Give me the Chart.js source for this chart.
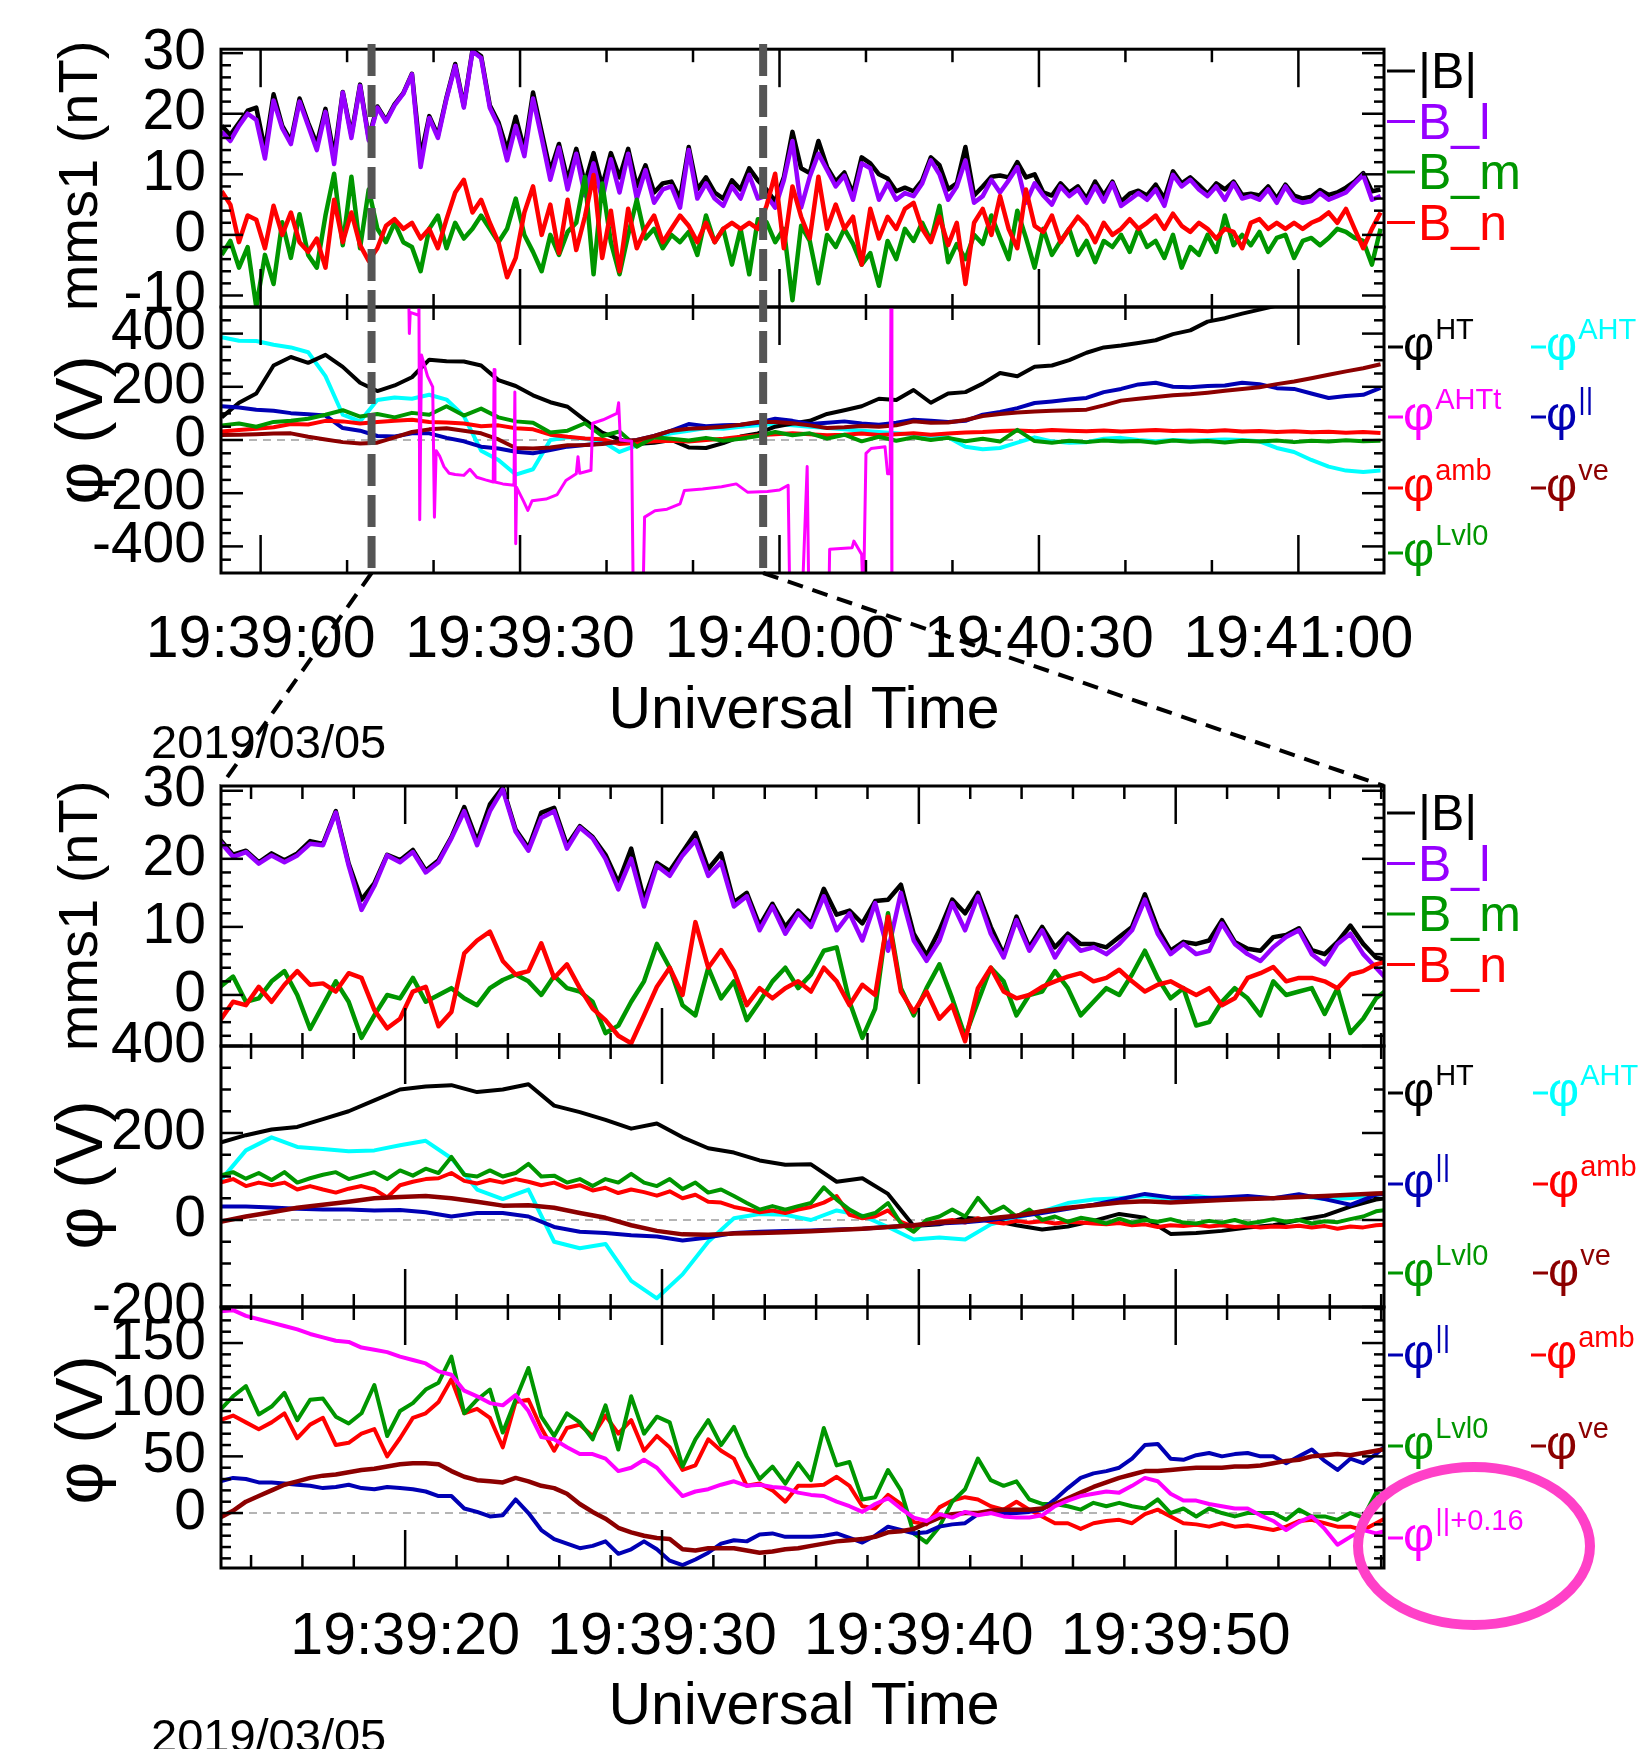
<!DOCTYPE html>
<html>
<head>
<meta charset="utf-8">
<script src="https://cdn.jsdelivr.net/npm/chart.js@4.4.1/dist/chart.umd.min.js"></script>
<style>
  html, body { margin: 0; padding: 0; background: #fff; }
  #page { position: relative; width: 1645px; height: 1749px; overflow: hidden; background: #fff; }
  #page canvas { position: absolute; left: 0; top: 0; }
</style>
</head>
<body>
<div id="page">
  <canvas id="p1" width="1645" height="1749"></canvas>
  <canvas id="p2" width="1645" height="1749"></canvas>
  <canvas id="p3" width="1645" height="1749"></canvas>
  <canvas id="p4" width="1645" height="1749"></canvas>
  <canvas id="p5" width="1645" height="1749"></canvas>
</div>
<script>
// time axis: seconds after 19:39:00 UT, 2019/03/05
const topRange = [-4.58, 129.9];
const zoomRange = [12.83, 58.11];
const topTickVals = [0, 30, 60, 90, 120];
const topTickLabels = ['19:39:00', '19:39:30', '19:40:00', '19:40:30', '19:41:00'];
const zoomTickVals = [20, 30, 40, 50];
const zoomTickLabels = ['19:39:20', '19:39:30', '19:39:40', '19:39:50'];

// ---- panel 1: B (nT), one sample per second from t = -4.5 ----
const bStart = -4.5, bStep = 1;
const bTot1 = [18, 16.5, 18.5, 20.5, 21, 14, 23.2, 18, 15.5, 22.5, 18.5, 15, 20.8, 13, 23.6,
  16.5, 24.8, 16, 21.2, 18.9, 21.6, 23.4, 26.6, 12.8, 19.6, 16.4, 22.7, 28.2, 21.3, 30.5,
  29.5, 21.4, 18.6, 14, 19.5, 14, 23.5, 17, 10.5, 15, 9, 14.2, 8.5, 13.5, 8,
  13.5, 9.5, 14.2, 8, 11.5, 7, 8.5, 8.8, 6, 14.5, 7.5, 9.5, 7, 6, 9,
  7.5, 11, 9, 7.5, 5.5, 9.5, 17, 11, 10.2, 15.5, 11.2, 8.8, 10.3, 6.8, 12.8,
  11.8, 10, 9.3, 7.2, 7.8, 7.2, 9, 12.8, 11.5, 7.5, 8.5, 14.5, 6.5, 8, 9.6,
  9.8, 9.5, 12, 9.5, 10, 7, 6.5, 8.5, 7, 8, 6, 8.8, 6.5, 8.8, 5.5,
  6.8, 7.3, 6.5, 8.3, 6, 10.5, 8.5, 9.5, 8.2, 6.8, 8.5, 7.5, 8.8, 6.6, 6.8,
  6.5, 8, 6, 8.3, 6.5, 6, 6.3, 7.4, 6.6, 7, 7.8, 8.8, 10.2, 7.2, 7.5];
const bL1 = [17, 15.5, 18, 20, 19, 12.6, 22.2, 17.6, 15, 22, 18, 14, 20.3, 11.7, 23.5,
  16, 24.6, 15.6, 21, 18.7, 21.4, 23.3, 26.5, 11.2, 19.3, 16, 22.5, 27.9, 21, 30.3,
  29.2, 21, 18, 12.3, 18, 13, 22.5, 16, 9.1, 14.4, 7.5, 13.4, 6.5, 11.8, 5.8,
  12.5, 7, 13.4, 6, 10.7, 5.3, 7.5, 8, 4.5, 14, 6, 8.5, 6, 4.8, 8,
  6, 9.9, 6, 6.5, 4.5, 9, 15.5, 4.5, 9.6, 13.4, 10.7, 8, 9.8, 5.8, 11.8,
  11, 5.8, 8.5, 5.8, 6.9, 6.4, 8.5, 12.3, 10, 5.8, 8, 12.3, 5.3, 6.4, 9.1,
  7, 9, 11.2, 5.3, 8.5, 6.5, 5, 8, 6.4, 7.5, 5.3, 8, 5.5, 8.5, 4.8,
  5.8, 6.9, 5.8, 7.5, 4.8, 9.9, 8, 9.1, 7.5, 6.4, 8, 5.8, 8.5, 6, 6.4,
  5.8, 7.5, 5.3, 8, 5.8, 5.3, 5.6, 6.9, 5.8, 6.4, 7, 8.5, 9.9, 5.8, 6.4];
const bM1 = [-3.3, -1, -5.4, -2, -11.9, -3.3, -8.1, 2.1, -3.8, 3.4, -3.3, -5.4, 3.2, 10.1, -1.7,
  9.6, -2.2, 7.5, 1, -1.2, 2, -1.2, -2, -6, 1, 3.2, -2.2, 2, -0.6, 1,
  3.2, 1, -1.2, 1, 6, 0, -2.8, -6, 0, -3.3, 0.5, 2, 9.6, -6.5, 8.5,
  -1.2, -6.5, 0, 5.8, -0.6, 1, -2.2, 0, -1.2, 0.5, -3.3, 3.2, -1.2, 1, -4.9,
  1, -6.5, 2.6, 2.1, -1.2, 1, -10.8, 1.5, -1, -8, 0, -2, 1, -1.5, -4.9,
  -3, -8.4, -1, -4, 1, -1, 2, -1, 4.8, -4.5, -1.5, -4, 0, -1.5, 3.2,
  -0.5, -4, 4, -0.5, -5.4, 1, -3.3, -1, 1, -3.3, -1, -4.5, -1, -2, 0,
  -2.8, 1, -2, -1, -3.8, 0, -5.4, -2, -3.3, 0, -2.8, 3.2, -1.7, 0, -1.7,
  0.5, -2.8, -0.5, 0, -3.8, -1, -0.5, -1.7, -0.5, 1, 0.5, -0.5, -1, -4.9, 1];
const bN1 = [7.2, 5, -1.2, 3.2, 2.5, -2.2, 4.8, 0, 3.7, -1.2, -2.8, -0.6, -5.4, 5.8, -1.2,
  3.7, -1.7, -4.3, -2.2, 1.5, 2.6, 1, 2, -0.6, 1, -2.2, 2.6, 7, 9.1, 3.7,
  5.8, 2, -1.2, -7, -3.8, 3.7, 8, 0, 5, -3, 5.8, -2.5, 3, 9.9, -3.8,
  4, -6, 4.3, -2.2, 1, 3.2, -1.2, 1, 3.2, 1.5, -1.2, 2, -1.2, 1, 2,
  1, 2, 1, 4.8, 10.1, -2.2, 8, 3, -0.6, 9.6, 1, 5, 1, 3, -4.9,
  4.3, -0.6, 3, 1, 4.3, 5.3, 1, -1.2, 3, -1.7, 2, -8.1, 2, 4.3, 0,
  6.4, 1, -2.2, 7.5, 1.5, 0.5, 3.2, -1.2, 1, 3, 1.5, -1.2, 2, 0, 1,
  2.6, 1, 2, 3.2, 1, 3.5, 1.5, 0.5, 2, 1, -0.6, 1, 0.5, -2.2, 2,
  2.6, 1, 2, 1, 2, 1, 2, 2.6, 3.7, 2, 4.3, 1, -2.2, 1, 3.7];

// ---- panel 2: potentials (V), one sample every 2 s from t = -4.5 ----
const pStart = -4.5, pStep = 2;
const phiHT2 = [85, 140, 175, 280, 312, 290, 320, 275, 215, 184,
  205, 236, 302, 296, 295, 280, 225, 203, 168, 142,
  125, 75, 28, 2, -15, -10, 0, -28, -30, -12,
  13, 25, 50, 62, 72, 98, 112, 127, 155, 150,
  188, 140, 175, 180, 212, 252, 240, 275, 280, 300,
  328, 348, 355, 365, 375, 398, 412, 445, 458, 475,
  490, 505, 522, 540, 555, 570, 585, 600];
const phiAHT2 = [386, 373, 372, 358, 348, 330, 240, 95, 70, 150,
  160, 155, 170, 152, 90, -40, -75, -130, -110, 0,
  10, 5, -5, -45, -20, 10, 25, 35, 45, 42,
  50, 55, 60, 55, 50, 45, 40, 35, 30, 25,
  20, 15, 10, -25, -35, -30, -10, 10, -5, -10,
  -8, 5, 8, 0, -5, 0, -3, 0, 2, 0,
  -5, -30, -45, -75, -100, -115, -120, -115];
const phiPar2 = [127, 122, 114, 110, 101, 97, 92, 45, 35, 15,
  13, 25, 25, 8, -5, -25, -32, -44, -50, -38,
  -25, -19, -13, -8, 0, 15, 35, 60, 52, 55,
  57, 65, 80, 72, 60, 65, 70, 62, 57, 65,
  76, 72, 68, 72, 95, 105, 120, 139, 145, 152,
  158, 180, 192, 209, 215, 200, 198, 203, 205, 215,
  210, 195, 192, 175, 158, 165, 170, 196];
const phiAmb2 = [32, 38, 42, 48, 60, 58, 72, 70, 62, 68,
  72, 76, 68, 66, 62, 52, 55, 44, 40, 20,
  12, 6, 3, -15, -10, -5, -3, -6, 0, 5,
  12, 18, 22, 25, 22, 18, 20, 24, 19, 22,
  25, 20, 24, 28, 30, 34, 36, 33, 38, 35,
  33, 36, 32, 35, 38, 34, 36, 33, 37, 32,
  34, 30, 33, 29, 31, 27, 30, 26];
const phiLvl2 = [55, 62, 50, 68, 72, 80, 95, 112, 88, 98,
  85, 102, 95, 127, 92, 118, 85, 70, 65, 28,
  35, 63, 15, 32, -25, 10, 5, -2, 8, -3,
  5, 15, 30, 18, 25, 5, 20, -5, 12, -3,
  10, 0, 8, -5, 5, -6, 38, -4, -10, -3,
  -8, -2, -6, -4, -10, -2, -7, -4, -9, -3,
  -6, -2, -8, -3, -6, -1, -5, -3];
const phiVe2 = [19, 20, 22, 24, 25, 12, 2, -8, -13, -10,
  10, 30, 40, 44, 35, 25, 2, -30, -32, -28,
  -20, -19, -15, -5, 0, 15, 35, 42, 45, 50,
  57, 68, 68, 63, 55, 45, 48, 53, 50, 55,
  70, 65, 66, 75, 90, 98, 103, 107, 110, 112,
  114, 130, 148, 155, 162, 168, 172, 178, 185, 192,
  198, 210, 220, 232, 245, 258, 270, 285];
// phi AHTt is patchy, so it is kept as (time, value) pairs
const ahttTime = [17.1, 17.2, 17.3, 18.2, 18.3, 18.4, 18.6, 19.3, 19.9, 20.1,
  20.3, 20.7, 21.2, 21.8, 22.5, 23.5, 24.2, 25.0, 26.0, 26.9,
  27.0, 27.1, 28.0, 29.3, 29.4, 29.5, 29.6, 30.4, 30.9, 31.4,
  33.0, 34.3, 35.3, 36.5, 36.7, 36.9, 38.2, 38.4, 39.6, 41.2,
  41.4, 41.6, 42.9, 43.1, 44.2, 44.4, 45.6, 47.0, 48.5, 49.0,
  51.1, 53.3, 55.0, 56.3, 58.6, 60.0, 61.0, 61.2, 62.6, 63.2,
  63.4, 65.7, 65.8, 68.4, 68.6, 69.5, 69.7, 70.0, 70.6, 72.2,
  72.5, 72.8, 72.9, 73.0];
const ahttVal = [600, 400, 480, 470, 600, -300, 320, 240, 200, -290,
  -40, -60, -100, -125, -130, -133, -110, -140, -150, -158,
  265, -158, -165, -170, 180, -390, -178, -230, -265, -228,
  -222, -205, -152, -127, -63, -125, -114, 63, 76, 100,
  140, 0, -5, -620, -620, -290, -266, -260, -240, -190,
  -184, -176, -165, -196, -194, -188, -170, -620, -620, -100,
  -620, -620, -411, -405, -380, -430, -620, -50, -32, -25,
  -127, -127, 620, -620];

// ---- panel 3: B (nT) zoom, one sample every 0.5 s from t = 12.8 ----
const zStart = 12.8, zStep = 0.5;
const bTot3 = [22.8, 20.6, 21.2, 19.5, 20.8, 19.8, 20.8, 22.6, 22.2, 27,
  19.3, 14, 16.4, 20.6, 19.8, 21.3, 18.3, 19.8, 23.2, 27.6,
  22.6, 28, 30.5, 24.3, 21.6, 26.8, 27.5, 22, 24.8, 23.2,
  20.6, 16.5, 21.5, 14, 19.4, 18.2, 21, 23.8, 18.5, 20.8,
  13.6, 15, 10.2, 13.4, 10, 12.4, 10.5, 15.6, 11.8, 12.4,
  10.5, 13.8, 14, 16.2, 9, 5.8, 9.5, 14, 12, 15,
  10, 6, 11.5, 7, 10, 7, 9, 7.5, 7.5, 7,
  8.5, 10, 14.8, 9.8, 6.5, 7.8, 7.5, 8, 11, 7.8,
  6.8, 6.5, 8.5, 8.8, 9.8, 6.6, 6, 7.8, 10.2, 7.5,
  5.5, 5];
const bL3 = [22.5, 20.3, 21, 19.3, 20.5, 19.5, 20.5, 22.2, 22, 26.8,
  19, 12.5, 16, 20.5, 19.5, 21, 18, 19.5, 23, 27,
  22, 27, 30.2, 24, 21.2, 26, 27, 21.5, 24.6, 23,
  20, 15.5, 20, 13, 19, 17.5, 20.5, 22.7, 17.5, 19.5,
  13, 14.5, 9.5, 13, 9, 12, 10, 14.5, 9.5, 12,
  8, 13.5, 6.5, 15, 8, 5, 8, 13.5, 9.5, 14.5,
  9, 5.5, 11, 6.5, 9.5, 5.5, 8.5, 6.5, 7, 6,
  7.5, 9.5, 14, 9, 6, 7.5, 6, 6.5, 10.5, 7.5,
  6, 5, 7, 8.5, 9.5, 6, 4.5, 7.5, 9, 6,
  4, 2];
const bM3 = [1.2, 2.7, -1, -0.5, 2, 3.5, 0, -5, -1.5, 2,
  -1, -6.3, -3, 0, -0.5, 2.5, -1, 0, 1, -0.5,
  -1.5, 1, 2.2, 3, 2, 0, 2.8, 1, 0.5, -1,
  -5.6, -4.5, -1, 2, 7.5, 4, -1.5, -3, 4, -0.5,
  2, -3.7, -1, 2, 4, 1, 3, 6.5, 7, -1,
  -6.3, -2, 12, 1, -3, 1, 4.5, -0.5, -6.1, -1,
  4, 2, -3, 0, 0.5, 3.5, 1, -3, -1, 1,
  0, 3, 6.5, 2.5, -0.5, 1, -4.5, -4, -1, 1,
  -0.5, -3, 2, 0, 0.5, 1, -2.8, 1, -5.6, -3.5,
  -0.5, 1];
const bN3 = [-3.7, -1, -1.5, 1.2, -1, 1.5, 3.5, 1.5, 1.7, 0.5,
  3.2, 2.5, -2.2, -4.9, -3.5, 0.5, 1.2, -4.6, -2.5, 6.1,
  8, 9.3, 5, 3, 3.5, 7.6, 2.5, 4.5, 1, -2,
  -3.7, -6, -7.1, -3, 1.2, 4, 0, 10.7, 4, 6.6,
  3.5, -1.5, 1, -0.5, 1, 2, 0.5, 4, 2, -1.5,
  1.5, 0, 11.5, 0.5, -2.5, 0.5, -3.5, -1.5, -6.8, 1,
  4, 0.5, -0.5, 0, 1.2, 2, 2.7, 3.2, 2, 2.5,
  3.7, 2, 0.5, 1.5, 2, 1, 0, 1, -1.5, -0.5,
  2.5, 3.2, 4.1, 2, 2.5, 2.5, 2, 1, 3, 3.5,
  4.5, 5];

// ---- panel 4: potentials (V) zoom; smooth ones every 1 s, noisy ones every 0.5 s ----
const sStart = 12.8, sStep = 1;
const phiHT4 = [178, 195, 208, 214, 232, 250, 275, 300, 307, 310,
  294, 300, 312, 263, 248, 230, 210, 222, 190, 165,
  155, 137, 127, 128, 88, 96, 60, -14, -10, 5,
  0, -12, -22, -15, -2, 14, 5, -32, -30, -25,
  -17, -12, 0, 10, 31, 47, 55];
const phiAHT4 = [90, 160, 190, 168, 163, 158, 160, 172, 182, 142,
  70, 48, 70, -50, -65, -55, -140, -180, -125, -50,
  4, 14, 12, 0, 22, 10, -16, -45, -40, -45,
  -10, 5, 20, 39, 47, 50, 55, 48, 55, 48,
  52, 50, 55, 48, 50, 58, 65];
const phiPar4 = [31, 31, 29, 26, 24, 24, 22, 23, 18, 8,
  16, 16, 8, -16, -27, -30, -35, -38, -47, -40,
  -30, -27, -25, -24, -22, -20, -16, -12, -8, -5,
  0, 8, 16, 26, 35, 47, 60, 52, 50, 52,
  55, 50, 59, 48, 35, 58, 65];
const phiVe4 = [-4, 8, 18, 28, 35, 42, 50, 53, 55, 50,
  42, 33, 34, 28, 16, 5, -12, -25, -33, -34,
  -31, -30, -28, -26, -23, -20, -16, -12, -6, -3,
  4, 10, 20, 28, 34, 40, 43, 40, 43, 46,
  48, 50, 53, 55, 58, 61, 63];
const phiLvl4 = [102, 110, 95, 108, 92, 110, 86, 96, 104, 110,
  94, 102, 110, 94, 114, 102, 118, 108, 145, 104,
  100, 114, 100, 108, 129, 100, 102, 86, 94, 78,
  94, 86, 106, 86, 78, 94, 71, 86, 63, 70,
  55, 39, 24, 32, 24, 32, 39, 75, 47, 24,
  8, 16, 39, -8, -27, 0, 8, 24, 8, 51,
  16, 31, 8, 24, 0, 8, -4, 5, 0, -8,
  3, -6, 0, -4, 2, -6, -8, -2, -6, 0,
  -8, -4, 2, -4, 0, -8, -3, -5, 2, 8,
  20, 24];
const phiAmb4 = [86, 94, 78, 86, 80, 86, 70, 78, 70, 63,
  72, 78, 70, 52, 80, 88, 94, 96, 108, 90,
  84, 92, 86, 94, 88, 80, 86, 74, 80, 68,
  74, 62, 70, 64, 56, 66, 50, 58, 42, 40,
  30, 24, 18, 22, 16, 24, 30, 40, 55, 12,
  4, 8, 22, -4, -16, -8, -4, 0, -6, 4,
  -4, -8, -2, -6, -3, -8, -4, -6, -8, -10,
  -7, -12, -10, -16, -12, -14, -11, -15, -12, -16,
  -14, -17, -15, -16, -13, -17, -14, -20, -15, -17,
  -12, -10];

// ---- panel 5: potentials (V) zoom, every 0.5 s ----
const phiPar5 = [28, 31, 30, 27, 27, 26, 25, 24, 22, 23,
  25, 22, 21, 23, 22, 21, 19, 15, 15, 4,
  1, -3, -2, 12, 0, -15, -23, -27, -31, -29,
  -25, -36, -32, -25, -32, -42, -46, -41, -35, -27,
  -24, -25, -19, -18, -21, -21, -21, -20, -18, -22,
  -26, -20, -12, -15, -18, -17, -12, -10, -9, -1,
  0, 0, 0, 1, 3, 12, 22, 31, 35, 37,
  40, 48, 60, 61, 48, 47, 51, 53, 50, 52,
  53, 50, 50, 44, 50, 56, 46, 38, 48, 44,
  52, 62];
const phiAmb5 = [82, 86, 80, 74, 80, 88, 66, 78, 84, 60,
  62, 70, 74, 50, 66, 84, 88, 98, 118, 88,
  92, 84, 58, 98, 100, 75, 55, 75, 78, 68,
  86, 70, 82, 55, 68, 58, 38, 42, 65, 55,
  48, 24, 26, 20, 10, 24, 24, 25, 32, 24,
  6, 4, 16, 8, -8, -10, 5, 11, 14, 12,
  6, 3, 10, 3, -3, -9, -9, -14, -9, -7,
  -6, -9, -1, 3, -3, -9, -10, -12, -9, -12,
  -11, -13, -15, -12, -7, -6, -9, -12, -12, -15,
  -9, -3];
const phiVe5 = [-4, 2, 10, 15, 20, 25, 28, 31, 33, 34,
  36, 38, 39, 41, 43, 44, 44, 43, 37, 32,
  29, 28, 27, 31, 28, 24, 22, 17, 8, 1,
  -5, -13, -17, -20, -22, -23, -32, -33, -31, -31,
  -31, -33, -35, -34, -32, -31, -29, -27, -25, -24,
  -23, -21, -17, -16, -14, -9, -4, -1, 0, 0,
  2, 3, 3, 3, 4, 8, 13, 18, 23, 27,
  31, 34, 37, 37, 38, 39, 40, 40, 40, 41,
  41, 42, 44, 46, 47, 50, 51, 52, 51, 53,
  55, 57];
const phiLvl5 = [91, 103, 112, 87, 94, 106, 82, 100, 101, 85,
  79, 88, 113, 68, 90, 97, 109, 115, 138, 88,
  100, 109, 71, 100, 128, 85, 68, 88, 80, 65,
  95, 56, 103, 70, 85, 80, 41, 65, 82, 60,
  76, 50, 30, 41, 26, 44, 29, 75, 42, 45,
  12, 14, 38, 20, -18, -26, -12, 10, 21, 48,
  29, 24, 28, 12, 8, 8, 6, 3, 9, 6,
  9, 6, 4, 12, 0, 4, -3, 4, 0, -3,
  0, 0, 0, -6, 3, -3, -3, -6, 0, -4,
  18, 12];
const phiPar016 = [178, 179, 174, 171, 168, 165, 162, 158, 155, 152,
  151, 146, 144, 142, 138, 135, 132, 125, 122, 108,
  103, 97, 95, 104, 90, 67, 65, 58, 52, 52,
  48, 37, 40, 47, 40, 27, 15, 19, 21, 25,
  28, 24, 25, 23, 22, 18, 16, 15, 10, 6,
  1, 8, 13, 4, -4, -7, -1, -4, 1, -2,
  0, -3, -4, -4, -2, 6, 11, 15, 17, 19,
  18, 24, 31, 28, 17, 11, 11, 8, 6, 4,
  4, -2, -7, -15, -8, -3, -14, -28, -21, -15,
  -18, -15];

// ---------------------------------------------------------------
const FONT = '"Liberation Sans", Arial, Helvetica, sans-serif';
const COL = { black: '#000000', purple: '#9600ff', green: '#009600', red: '#ff0000',
  cyan: '#00ffff', magenta: '#ff00ff', blue: '#0000b4', dred: '#8c0000' };
const W = 1645, H = 1749, LEFT = 221, RIGHT = 1384;

function pts(t0, dt, vals) { return vals.map((v, i) => ({ x: t0 + i * dt, y: v })); }
function pairs(ts, vs) { return ts.map((t, i) => ({ x: t, y: vs[i] })); }
function seg(ctx, x1, y1, x2, y2) { ctx.beginPath(); ctx.moveTo(x1, y1); ctx.lineTo(x2, y2); ctx.stroke(); }
function range(a, b, step, skip) {
  const out = [];
  for (let v = a; v <= b + 1e-9; v += step) if (!skip.includes(Math.round(v * 100) / 100)) out.push(Math.round(v * 100) / 100);
  return out;
}

function vtitle(ctx, text, cx, cy, size) {
  ctx.save();
  ctx.translate(cx, cy);
  ctx.rotate(-Math.PI / 2);
  ctx.font = size + 'px ' + FONT;
  ctx.fillStyle = '#000';
  ctx.textAlign = 'center';
  ctx.textBaseline = 'middle';
  ctx.fillText(text, 0, 0);
  ctx.restore();
}
function bLegend(ctx, top) {
  const items = [['|B|', COL.black], ['B_l', COL.purple], ['B_m', COL.green], ['B_n', COL.red]];
  items.forEach((it, k) => {
    const base = top + 44 + k * 50.5;
    ctx.strokeStyle = it[1]; ctx.lineWidth = 3;
    seg(ctx, 1387, base - 17, 1415, base - 17);
    ctx.fillStyle = it[1]; ctx.font = '50px ' + FONT;
    ctx.textAlign = 'left'; ctx.textBaseline = 'alphabetic';
    ctx.fillText(it[0], 1418, base);
  });
}
function phiItem(ctx, x0, base, sup, color) {
  ctx.strokeStyle = color; ctx.lineWidth = 3;
  seg(ctx, x0, base - 13, x0 + 15, base - 13);
  ctx.fillStyle = color; ctx.textAlign = 'left'; ctx.textBaseline = 'alphabetic';
  ctx.font = '48px ' + FONT;
  ctx.fillText('φ', x0 + 15, base);
  const w = ctx.measureText('φ').width;
  ctx.font = '29px ' + FONT;
  ctx.fillText(sup, x0 + 16 + w, base - 21);
}
function plainText(ctx, text, x, y, size, align) {
  ctx.fillStyle = '#000'; ctx.font = size + 'px ' + FONT;
  ctx.textAlign = align; ctx.textBaseline = 'alphabetic';
  ctx.fillText(text, x, y);
}

function panel(id, p) {
  const decor = {
    id: 'decor_' + id,
    beforeDatasetsDraw(chart) {
      if (!p.zeroLine) return;
      const { ctx, chartArea: a, scales: { y } } = chart;
      ctx.save();
      ctx.strokeStyle = '#b4b4b4'; ctx.lineWidth = 2; ctx.setLineDash([8, 6]);
      const py = y.getPixelForValue(0);
      seg(ctx, a.left, py, a.right, py);
      ctx.restore();
    },
    afterDatasetsDraw(chart) {
      const { ctx, chartArea: a, scales: { x, y } } = chart;
      ctx.save();
      ctx.strokeStyle = '#000'; ctx.lineWidth = 2.5; ctx.setLineDash([]);
      p.xMinor.forEach(v => { const px = x.getPixelForValue(v); seg(ctx, px, a.top, px, a.top + 13); seg(ctx, px, a.bottom, px, a.bottom - 13); });
      p.xMajor.forEach(v => { const px = x.getPixelForValue(v); seg(ctx, px, a.top, px, a.top + 38); seg(ctx, px, a.bottom, px, a.bottom - 38); });
      p.yMinor.forEach(v => { const py = y.getPixelForValue(v); seg(ctx, a.left, py, a.left + 10, py); seg(ctx, a.right, py, a.right - 10, py); });
      p.yMajor.forEach(v => { const py = y.getPixelForValue(v); seg(ctx, a.left, py, a.left + 22, py); seg(ctx, a.right, py, a.right - 22, py); });
      ctx.lineWidth = 3;
      ctx.strokeRect(a.left, a.top, a.right - a.left, a.bottom - a.top);
      ctx.restore();
    },
    afterDraw(chart) {
      if (!p.extra) return;
      chart.ctx.save();
      p.extra(chart.ctx, chart);
      chart.ctx.restore();
    }
  };
  return new Chart(document.getElementById(id), {
    type: 'line',
    data: {
      datasets: p.datasets.map(d => ({ data: d.data, borderColor: d.color, borderWidth: d.w || p.lw,
        pointRadius: 0, fill: false, tension: 0, borderJoinStyle: 'round' }))
    },
    options: {
      responsive: false, animation: false, devicePixelRatio: 1, events: [],
      layout: { padding: { left: 0, right: W - RIGHT, top: p.top, bottom: H - p.bottom - p.xh } },
      plugins: { legend: { display: false }, tooltip: { enabled: false } },
      scales: {
        x: {
          type: 'linear', min: p.xRange[0], max: p.xRange[1],
          grid: { display: false, drawTicks: false }, border: { display: false },
          afterBuildTicks: s => { s.ticks = p.xMajor.map(v => ({ value: v })); },
          afterFit: s => { s.height = p.xh; },
          ticks: { display: !!p.xLabels, autoSkip: false, maxRotation: 0, minRotation: 0,
            padding: p.xPad || 32, color: '#000', font: { family: FONT, size: 59, lineHeight: 1.2 },
            callback: (v, i) => (p.xLabels ? p.xLabels[i] : '') }
        },
        y: {
          type: 'linear', min: p.yRange[0], max: p.yRange[1],
          grid: { display: false, drawTicks: false }, border: { display: false },
          afterBuildTicks: s => { s.ticks = p.yMajor.map(v => ({ value: v })); },
          afterFit: s => { s.width = LEFT; },
          ticks: { autoSkip: false, padding: 15, color: '#000', font: { family: FONT, size: 57, lineHeight: 1.2 },
            callback: (v, i) => p.yLabels[i] }
        }
      }
    },
    plugins: [decor]
  });
}

const topMinor = [10, 20, 40, 50, 70, 80, 100, 110];
const zoomMinor = range(14, 58, 2, zoomTickVals);

// panel 1
panel('p1', {
  top: 44, bottom: 307, xh: 0, lw: 4.5, xRange: topRange, xMajor: topTickVals, xMinor: topMinor,
  yRange: [-11.9, 30.65], yMajor: [-10, 0, 10, 20, 30], yLabels: ['-10', '0', '10', '20', '30'],
  yMinor: range(-8, 28, 2, [0, 10, 20]),
  datasets: [
    { data: pts(bStart, bStep, bN1), color: COL.red },
    { data: pts(bStart, bStep, bM1), color: COL.green },
    { data: pts(bStart, bStep, bL1), color: COL.purple },
    { data: pts(bStart, bStep, bTot1), color: COL.black }
  ],
  extra(ctx) {
    vtitle(ctx, 'mms1 (nT)', 82, 176, 56);
    bLegend(ctx, 44);
  }
});

// panel 2
panel('p2', {
  top: 307, bottom: 573, xh: 100, xPad: 32, lw: 4, xRange: topRange, xMajor: topTickVals, xMinor: topMinor,
  xLabels: topTickLabels, zeroLine: true,
  yRange: [-500, 500], yMajor: [-400, -200, 0, 200, 400], yLabels: ['-400', '-200', '0', '200', '400'],
  yMinor: range(-450, 450, 50, [-400, -200, 0, 200, 400]),
  datasets: [
    { data: pairs(ahttTime, ahttVal), color: COL.magenta, w: 3 },
    { data: pts(pStart, pStep, phiVe2), color: COL.dred },
    { data: pts(pStart, pStep, phiLvl2), color: COL.green },
    { data: pts(pStart, pStep, phiAmb2), color: COL.red },
    { data: pts(pStart, pStep, phiPar2), color: COL.blue },
    { data: pts(pStart, pStep, phiHT2), color: COL.black },
    { data: pts(pStart, pStep, phiAHT2), color: COL.cyan }
  ],
  extra(ctx, chart) {
    vtitle(ctx, 'φ (V)', 84, 430, 66);
    const c1 = 1388, c2 = 1531;
    phiItem(ctx, c1, 360, 'HT', COL.black);
    phiItem(ctx, c1, 430, 'AHTt', COL.magenta);
    phiItem(ctx, c1, 501, 'amb', COL.red);
    phiItem(ctx, c1, 566, 'Lvl0', COL.green);
    phiItem(ctx, c2, 360, 'AHT', COL.cyan);
    phiItem(ctx, c2, 430, '||', COL.blue);
    phiItem(ctx, c2, 501, 've', COL.dred);
    plainText(ctx, 'Universal Time', 804, 728, 59, 'center');
    plainText(ctx, '2019/03/05', 151, 758, 47, 'left');
    // zoom interval markers and connectors
    const x = chart.scales.x;
    const xa = x.getPixelForValue(zoomRange[0]), xb = x.getPixelForValue(zoomRange[1]);
    ctx.strokeStyle = '#555555'; ctx.lineWidth = 8; ctx.setLineDash([32, 9]);
    seg(ctx, xa, 44, xa, 573);
    seg(ctx, xb, 44, xb, 573);
    ctx.strokeStyle = '#000'; ctx.lineWidth = 4; ctx.setLineDash([16, 10]);
    seg(ctx, xa, 573, LEFT, 786);
    seg(ctx, xb, 573, RIGHT, 786);
    ctx.setLineDash([]);
  }
});

// panel 3
panel('p3', {
  top: 786, bottom: 1046, xh: 0, lw: 4.5, xRange: zoomRange, xMajor: zoomTickVals, xMinor: zoomMinor,
  yRange: [-7.5, 30.7], yMajor: [0, 10, 20, 30], yLabels: ['0', '10', '20', '30'],
  yMinor: range(-6, 28, 2, [0, 10, 20]),
  datasets: [
    { data: pts(zStart, zStep, bN3), color: COL.red },
    { data: pts(zStart, zStep, bM3), color: COL.green },
    { data: pts(zStart, zStep, bL3), color: COL.purple },
    { data: pts(zStart, zStep, bTot3), color: COL.black }
  ],
  extra(ctx) {
    vtitle(ctx, 'mms1 (nT)', 82, 916, 56);
    bLegend(ctx, 786);
  }
});

// panel 4
panel('p4', {
  top: 1046, bottom: 1307, xh: 0, lw: 4, xRange: zoomRange, xMajor: zoomTickVals, xMinor: zoomMinor,
  zeroLine: true,
  yRange: [-200, 400], yMajor: [-200, 0, 200, 400], yLabels: ['-200', '0', '200', '400'],
  yMinor: range(-150, 350, 50, [0, 200]),
  datasets: [
    { data: pts(sStart, sStep, phiVe4), color: COL.dred, w: 4.5 },
    { data: pts(sStart, sStep, phiPar4), color: COL.blue },
    { data: pts(zStart, zStep, phiLvl4), color: COL.green },
    { data: pts(zStart, zStep, phiAmb4), color: COL.red },
    { data: pts(sStart, sStep, phiHT4), color: COL.black },
    { data: pts(sStart, sStep, phiAHT4), color: COL.cyan }
  ],
  extra(ctx) {
    vtitle(ctx, 'φ (V)', 84, 1175, 66);
    const c1 = 1388, c2 = 1533;
    phiItem(ctx, c1, 1106, 'HT', COL.black);
    phiItem(ctx, c1, 1197, '||', COL.blue);
    phiItem(ctx, c1, 1286, 'Lvl0', COL.green);
    phiItem(ctx, c2, 1106, 'AHT', COL.cyan);
    phiItem(ctx, c2, 1197, 'amb', COL.red);
    phiItem(ctx, c2, 1286, 've', COL.dred);
  }
});

// panel 5
panel('p5', {
  top: 1307, bottom: 1568, xh: 100, xPad: 34, lw: 4, xRange: zoomRange, xMajor: zoomTickVals, xMinor: zoomMinor,
  xLabels: zoomTickLabels, zeroLine: true,
  yRange: [-48.5, 181.8], yMajor: [0, 50, 100, 150], yLabels: ['0', '50', '100', '150'],
  yMinor: range(-40, 180, 10, [0, 50, 100, 150]),
  datasets: [
    { data: pts(zStart, zStep, phiPar016), color: COL.magenta },
    { data: pts(zStart, zStep, phiVe5), color: COL.dred, w: 4.5 },
    { data: pts(zStart, zStep, phiPar5), color: COL.blue },
    { data: pts(zStart, zStep, phiLvl5), color: COL.green },
    { data: pts(zStart, zStep, phiAmb5), color: COL.red }
  ],
  extra(ctx) {
    vtitle(ctx, 'φ (V)', 84, 1430, 66);
    const c1 = 1388, c2 = 1531;
    phiItem(ctx, c1, 1368, '||', COL.blue);
    phiItem(ctx, c1, 1459, 'Lvl0', COL.green);
    phiItem(ctx, c1, 1551, '||+0.16', COL.magenta);
    phiItem(ctx, c2, 1368, 'amb', COL.red);
    phiItem(ctx, c2, 1459, 've', COL.dred);
    plainText(ctx, 'Universal Time', 804, 1724, 59, 'center');
    plainText(ctx, '2019/03/05', 151, 1752, 47, 'left');
    ctx.strokeStyle = '#ff40c8'; ctx.lineWidth = 10;
    ctx.beginPath();
    ctx.ellipse(1474, 1546, 116, 79, 0, 0, Math.PI * 2);
    ctx.stroke();
  }
});
</script>
</body>
</html>
